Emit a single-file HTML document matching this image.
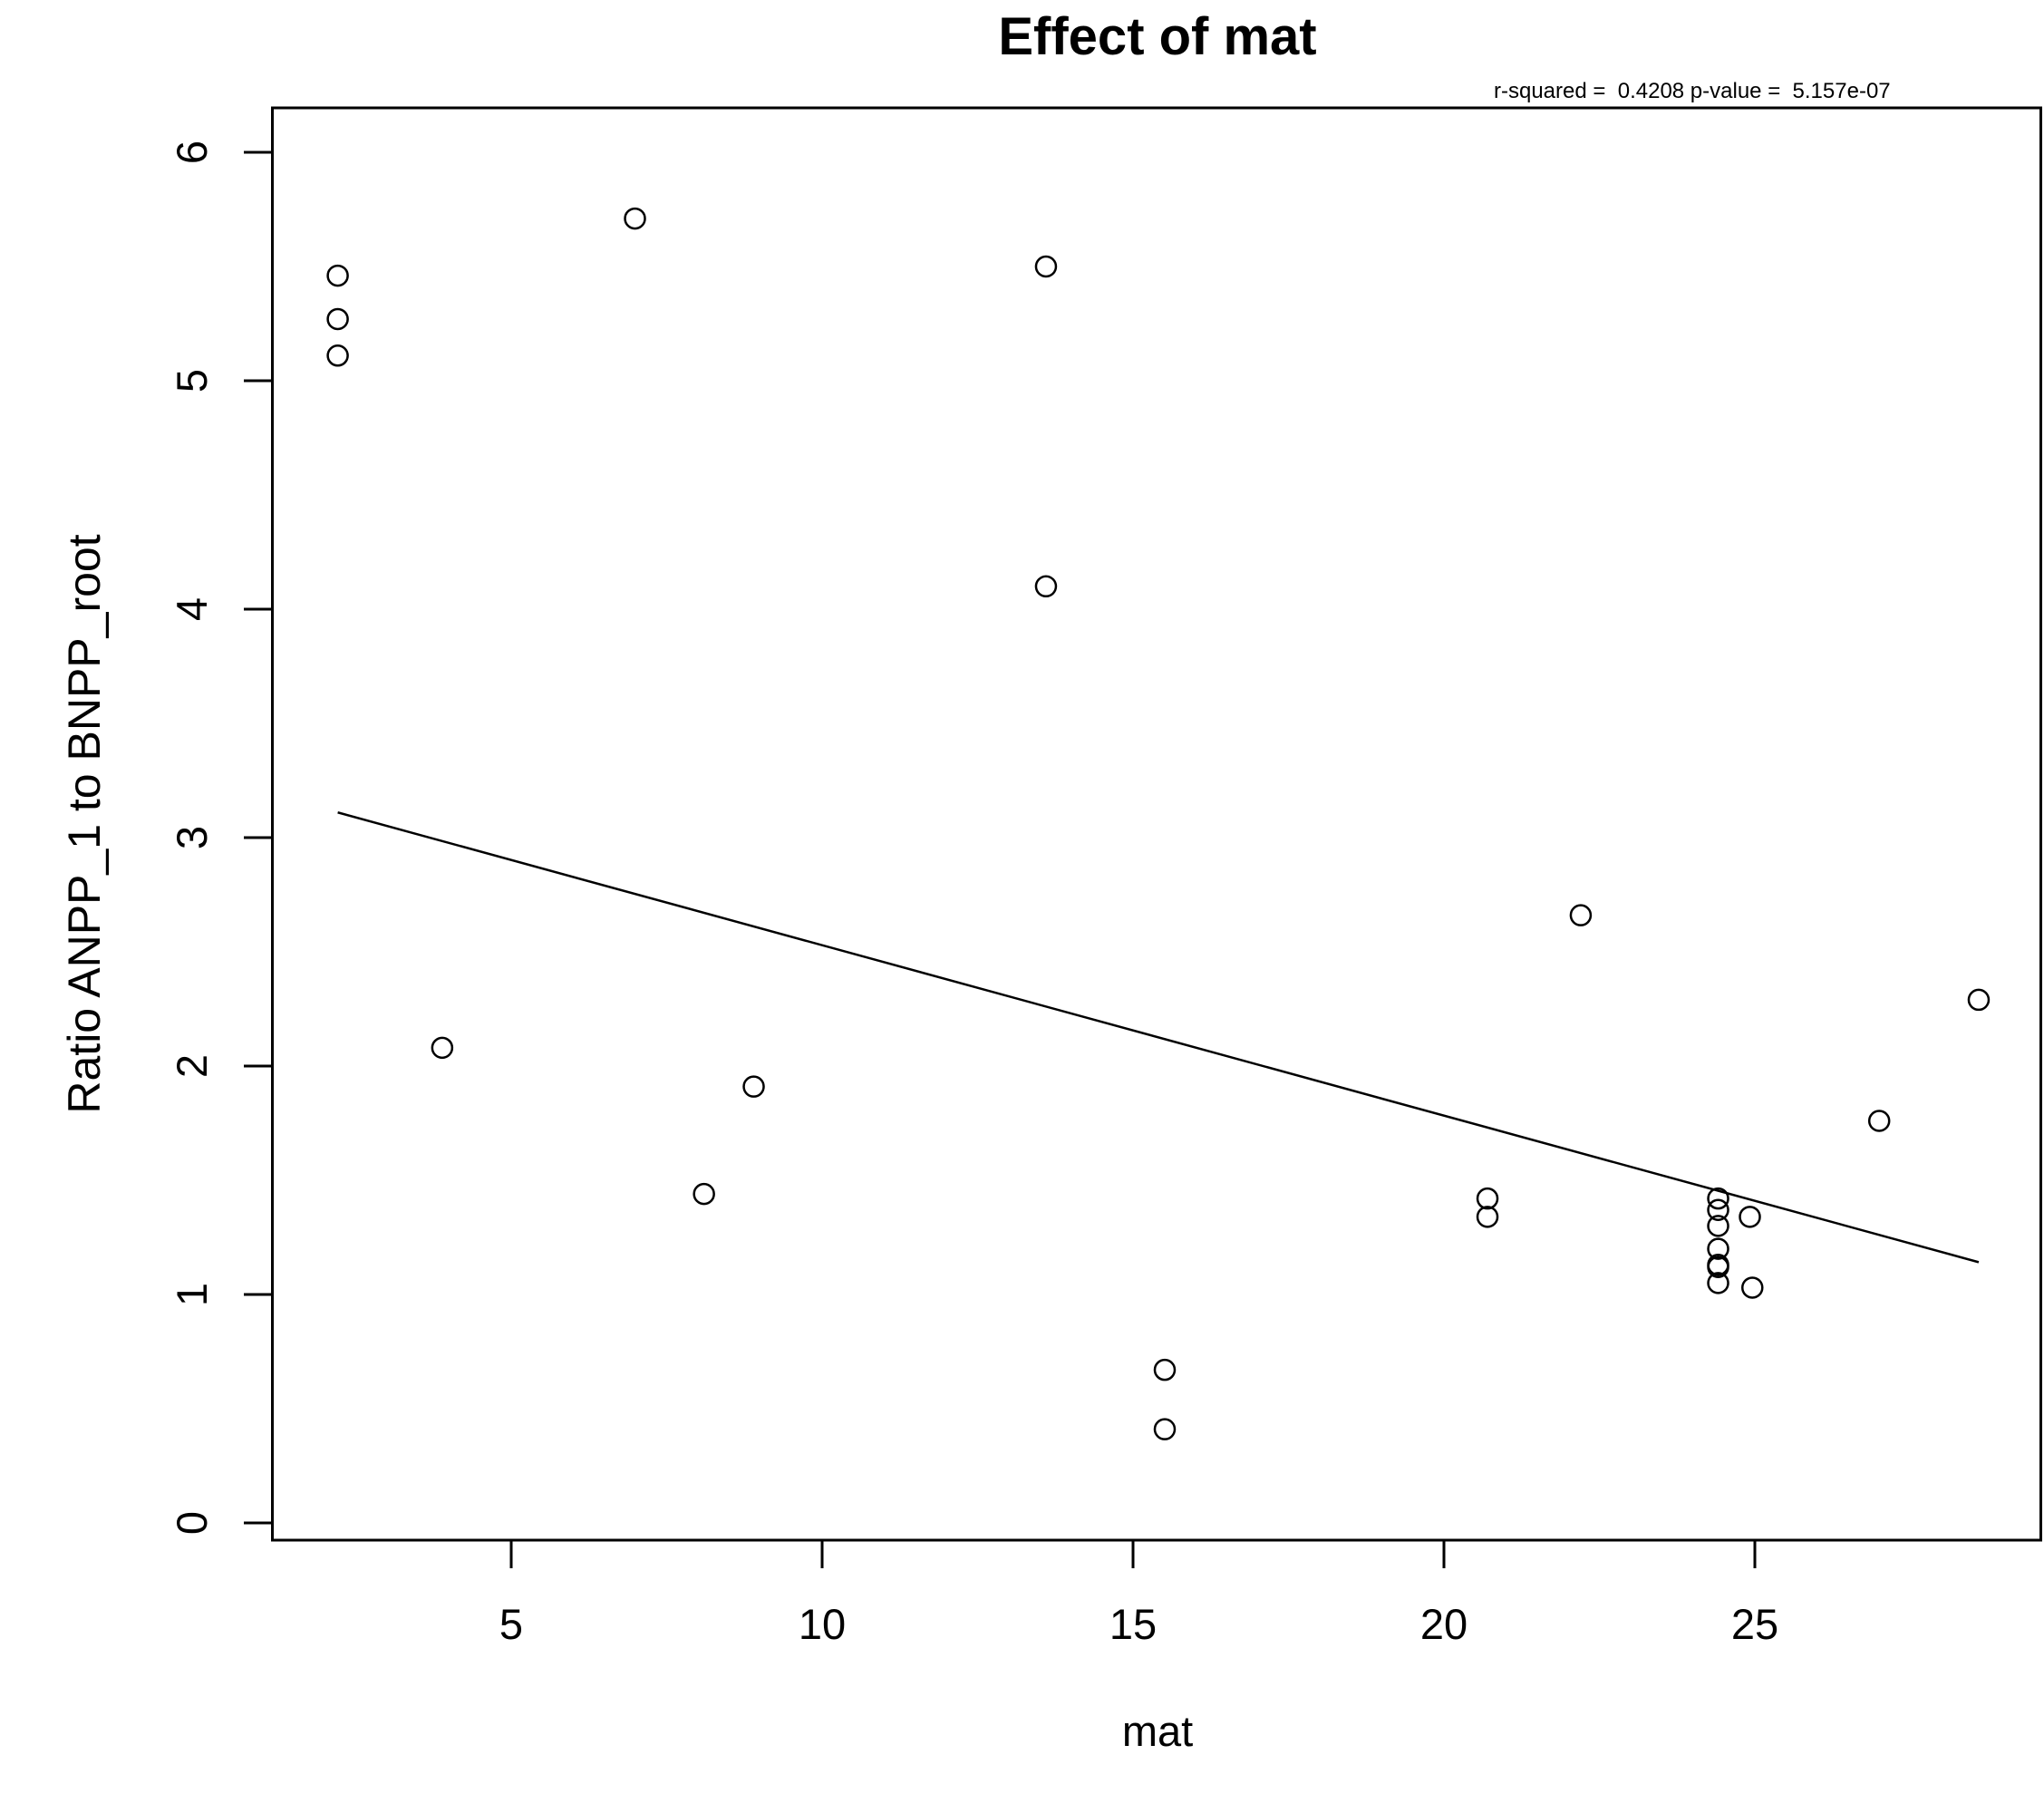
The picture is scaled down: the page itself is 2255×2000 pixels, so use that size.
<!DOCTYPE html>
<html><head><meta charset="utf-8"><style>body{margin:0;background:#fff}svg{display:block}text{font-family:"Liberation Sans",sans-serif}</style></head>
<body>
<svg id="chart" width="2255" height="2000" viewBox="0 0 2255 2000" xmlns="http://www.w3.org/2000/svg">
<rect width="2255" height="2000" fill="#fff"/>
<text x="1277" y="60" font-size="58" font-weight="bold" text-anchor="middle">Effect of mat</text>
<text x="1648" y="108" font-size="24" style="white-space:pre">r-squared =  0.4208 p-value =  5.157e-07</text>
<rect x="300.5" y="119" width="1951" height="1580" fill="none" stroke="#000" stroke-width="3"/>
<g id="xt"></g><g id="yt"></g>
<text x="1277" y="1926" font-size="47" text-anchor="middle">mat</text>
<text transform="translate(110,909) rotate(-90)" font-size="50" text-anchor="middle">Ratio ANPP_1 to BNPP_root</text>
<g id="marks"></g>
</svg>
<script>
const xVals=[2.21,2.21,2.21,6.99,13.6,13.6,3.89,8.9,8.1,15.51,15.51,20.7,20.7,22.2,24.41,24.41,24.41,24.41,24.41,24.41,24.41,24.92,24.96,27.0,28.6];
const yVals=[5.46,5.27,5.11,5.71,5.50,4.10,2.08,1.91,1.44,0.67,0.41,1.42,1.34,2.66,1.42,1.37,1.30,1.20,1.13,1.12,1.05,1.34,1.03,1.76,2.29];
const xTicks=[5,10,15,20,25];
const yTicks=[0,1,2,3,4,5,6];
const fitX=[2.21,28.6];
const fitIntercept=3.275, fitSlope=-0.0746;
const NS="http://www.w3.org/2000/svg";
const sx=v=>564+(v-5)*68.6;
const sy=v=>1680-v*252;
function mk(t,a,p){const e=document.createElementNS(NS,t);for(const k in a)e.setAttribute(k,a[k]);p.appendChild(e);return e;}
const xt=document.getElementById('xt'),yt=document.getElementById('yt'),m=document.getElementById('marks');
xTicks.forEach(v=>{
 const l=mk('line',{x1:sx(v),x2:sx(v),y1:1699,y2:1730,stroke:'#000','stroke-width':3},xt);
 
 
 const t=mk('text',{x:sx(v),y:1808,'font-size':47,'text-anchor':'middle'},xt);t.textContent=v;
 
 
});
yTicks.forEach(v=>{
 const l=mk('line',{x1:269,x2:300,y1:sy(v),y2:sy(v),stroke:'#000','stroke-width':3},yt);
 
 
 const t=mk('text',{transform:`translate(228,${sy(v)}) rotate(-90)`,'font-size':47,'text-anchor':'middle'},yt);t.textContent=v;
 
 
});
xVals.forEach((x,i)=>{
 const c=mk('circle',{cx:sx(x),cy:sy(yVals[i]),r:11,fill:'none',stroke:'#000','stroke-width':2.5},m);
 
 
});
const fl=mk('line',{x1:sx(fitX[0]),y1:sy(fitIntercept+fitSlope*fitX[0]),x2:sx(fitX[1]),y2:sy(fitIntercept+fitSlope*fitX[1]),stroke:'#000','stroke-width':2.5},m);


</script>
</body></html>
